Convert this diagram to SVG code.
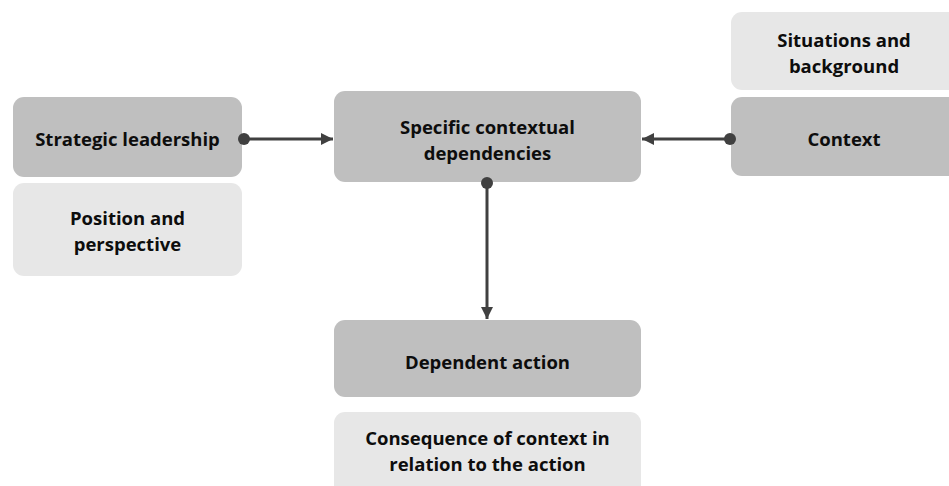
<svg xmlns="http://www.w3.org/2000/svg" width="949" height="486" viewBox="0 0 949 486">
  <defs>
    <marker id="arrow" viewBox="0 0 10 10" refX="10" refY="5" markerWidth="4" markerHeight="4" orient="auto" markerUnits="strokeWidth">
      <path d="M0,0 L10,5 L0,10 z" fill="#404040"/>
    </marker>
    <marker id="dot" viewBox="0 0 10 10" refX="5" refY="5" markerWidth="4" markerHeight="4" markerUnits="strokeWidth">
      <circle cx="5" cy="5" r="5" fill="#404040"/>
    </marker>
  </defs>
  <style>
    .dark { fill: #bfbfbf; }
    .light { fill: #e7e7e7; }
    .lbl { font-family: "Open Sans", "Liberation Sans", sans-serif; font-weight: bold; font-size: 18.5px; fill: #0d0d0d; text-anchor: middle; dominant-baseline: central; }
    .conn { stroke: #404040; stroke-width: 3; fill: none; marker-start: url(#dot); marker-end: url(#arrow); }
  </style>
  <rect width="949" height="486" fill="#ffffff"/>

  <g id="strategic-leadership">
    <rect class="dark" x="13" y="97" width="229" height="80" rx="11"/>
    <text class="lbl" x="127.5" y="138">Strategic leadership</text>
  </g>
  <g id="position-perspective">
    <rect class="light" x="13" y="183" width="229" height="93" rx="11"/>
    <text class="lbl" x="127.5" y="217">Position and</text>
    <text class="lbl" x="127.5" y="243">perspective</text>
  </g>
  <g id="specific-dependencies">
    <rect class="dark" x="334" y="91" width="307" height="91" rx="11"/>
    <text class="lbl" x="487.5" y="126">Specific contextual</text>
    <text class="lbl" x="487.5" y="152">dependencies</text>
  </g>
  <g id="situations-background">
    <rect class="light" x="731" y="12" width="230" height="78" rx="11"/>
    <text class="lbl" x="844" y="39">Situations and</text>
    <text class="lbl" x="844" y="65">background</text>
  </g>
  <g id="context">
    <rect class="dark" x="731" y="97" width="230" height="79" rx="11"/>
    <text class="lbl" x="844" y="138">Context</text>
  </g>
  <g id="dependent-action">
    <rect class="dark" x="334" y="320" width="307" height="77" rx="11"/>
    <text class="lbl" x="487.5" y="361">Dependent action</text>
  </g>
  <g id="consequence">
    <rect class="light" x="334" y="412" width="307" height="90" rx="11"/>
    <text class="lbl" x="487.5" y="437">Consequence of context in</text>
    <text class="lbl" x="487.5" y="463">relation to the action</text>
  </g>

  <g id="connectors">
    <line class="conn" x1="244" y1="139" x2="333" y2="139"/>
    <line class="conn" x1="730" y1="139" x2="642" y2="139"/>
    <line class="conn" x1="487" y1="183" x2="487" y2="319"/>
  </g>
</svg>
